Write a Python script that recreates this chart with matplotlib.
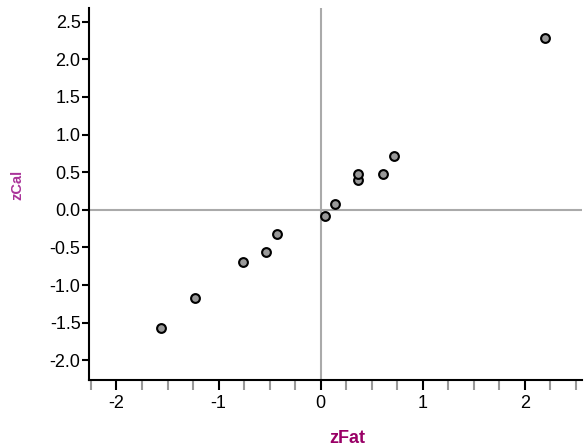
import matplotlib.pyplot as plt
import numpy as np
from matplotlib.ticker import MultipleLocator

# standardized values
zfat = [-1.56, -1.23, -0.76, -0.54, -0.43, 0.04, 0.14, 0.37, 0.37, 0.61, 0.72, 2.20]
zcal = [-1.57, -1.17, -0.69, -0.56, -0.32, -0.08, 0.08, 0.39, 0.48, 0.48, 0.72, 2.28]

plt.rcParams['font.family'] = ['Liberation Sans', 'DejaVu Sans']
plt.rcParams['axes.unicode_minus'] = False

fig = plt.figure(figsize=(5.85, 4.46), dpi=100)
ax = fig.add_axes([0.152, 0.148, 0.843, 0.834])

# reference lines through the origin
ax.axhline(0, color='#aaaaaa', lw=1.5, zorder=1)
ax.axvline(0, color='#aaaaaa', lw=1.5, zorder=1)

ax.scatter(zfat, zcal, s=40, facecolor='#999999', edgecolor='black', linewidth=1.5, zorder=3)

ax.set_xlim(-2.27, 2.56)
ax.set_ylim(-2.26, 2.68)

ax.xaxis.set_major_locator(MultipleLocator(1))
ax.xaxis.set_minor_locator(MultipleLocator(0.25))
ax.yaxis.set_major_locator(MultipleLocator(0.5))
ax.yaxis.set_major_formatter(plt.FormatStrFormatter('%.1f'))

for s in ['top', 'right']:
    ax.spines[s].set_visible(False)
for s in ['left', 'bottom']:
    ax.spines[s].set_linewidth(1.5)

ax.tick_params(axis='x', which='major', direction='out', length=7, width=1.5, color='black', labelsize=13, pad=4)
ax.tick_params(axis='x', which='minor', direction='out', length=7, width=1.5, color='#999999')
ax.tick_params(axis='y', which='major', direction='out', length=5, width=1.5, color='black', labelsize=13, pad=1)

ax.set_xlabel('zFat', color='#990066', fontsize=13, fontweight='bold')
ax.set_ylabel('zCal', color='#aa3399', fontsize=10.5, fontweight='bold')
ax.xaxis.set_label_coords(0.523, -0.135)
ax.yaxis.set_label_coords(-0.13, 0.524)

fig.savefig('out.png', dpi=100)
